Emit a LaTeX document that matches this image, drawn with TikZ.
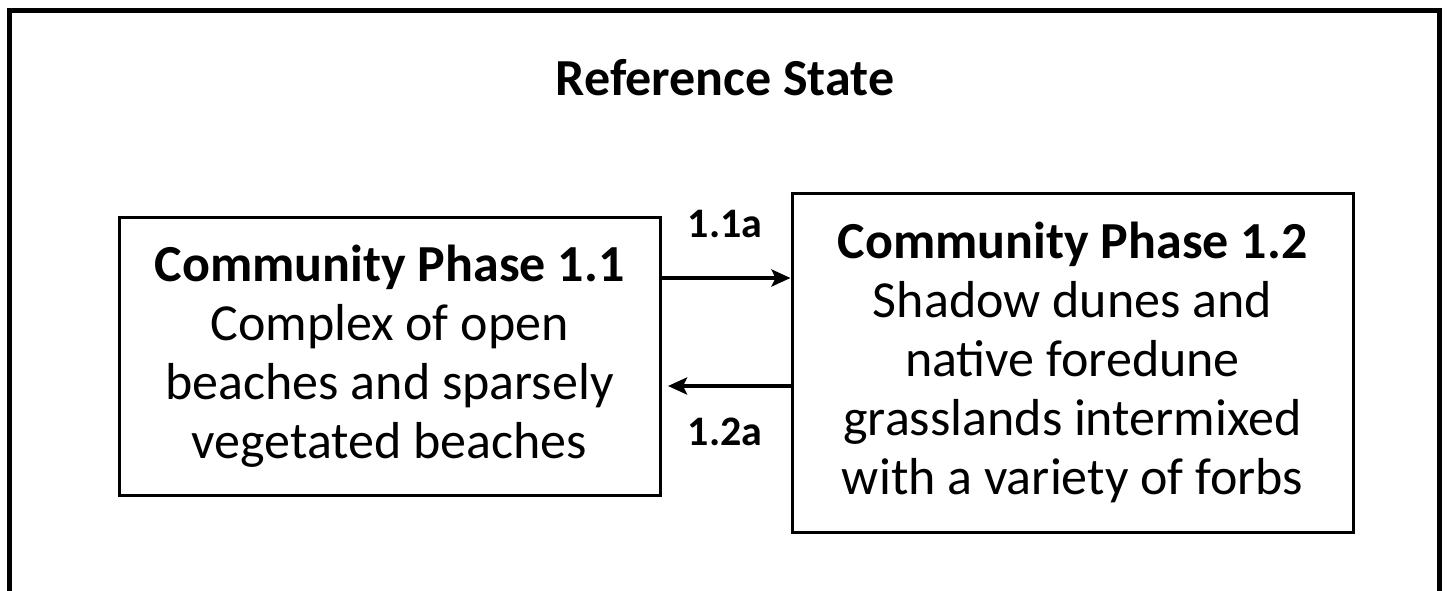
\documentclass[tikz,border=0pt]{standalone}
\usepackage{fontspec}
\setmainfont{Carlito}
\usetikzlibrary{arrows.meta}
\begin{document}
\begin{tikzpicture}[x=1pt,y=-1pt,
  phase/.style={draw,line width=3pt,inner sep=0pt,align=center,
    font=\fontsize{52}{59}\selectfont},
  lbl/.style={anchor=base,font=\bfseries\fontsize{42}{48}\selectfont},
  arr/.style={line width=4.5pt,-{Stealth[length=19pt,width=17pt,inset=4pt]}}]
\useasboundingbox (0,0) rectangle (1448,590);
\fill[white] (0,0) rectangle (1448,590);
\draw[line width=5pt] (9.5,600) -- (9.5,10.5) -- (1439,10.5) -- (1439,600);
\node[anchor=base,font=\bfseries\fontsize{52}{60}\selectfont] (title) at (725,95) {Reference State};
\node[phase,minimum width=541pt,minimum height=278pt] (p1) at (389.5,356)
  {\textbf{Community Phase 1.1}\\Complex of open\\beaches and sparsely\\vegetated beaches};
\node[phase,minimum width=561pt,minimum height=339pt] (p2) at (1072.5,362.5)
  {\textbf{Community Phase 1.2}\\Shadow dunes and\\native foredune\\grasslands intermixed\\with a variety of forbs};
\coordinate (a1) at (0,278);
\coordinate (a2) at (0,386);
\coordinate (tip2) at (668,386);
\draw[arr] (p1.east |- a1) -- (p2.west |- a1);
\draw[arr] (p2.west |- a2) -- (tip2);
\node[lbl] (l1) at (725,237) {1.1a};
\node[lbl] (l2) at (725,445) {1.2a};
\end{tikzpicture}
\end{document}
